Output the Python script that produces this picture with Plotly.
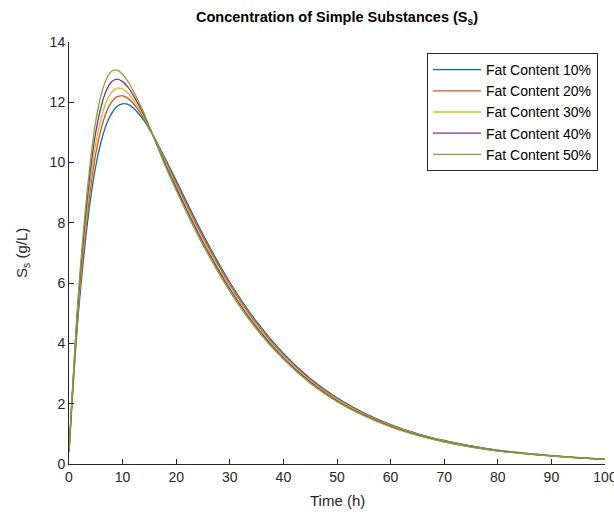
import plotly.graph_objects as go

time_h = [0, 0.5, 1, 1.5, 2, 3, 4, 5, 6, 7, 8, 9, 10, 11, 12, 14, 16, 18, 20, 22, 25,
          30, 35, 40, 45, 50, 55, 60, 65, 70, 75, 80, 85, 90, 95, 100]

fat_10 = [0.4, 1.85, 3.2, 4.45, 5.5, 7.3, 8.77, 9.89, 10.70, 11.28, 11.64, 11.87, 11.95, 11.93,
          11.81, 11.39, 10.80, 10.12, 9.40, 8.67, 7.61, 6.03, 4.72, 3.67, 2.84, 2.20, 1.70,
          1.31, 1.01, 0.78, 0.60, 0.46, 0.36, 0.28, 0.21, 0.16]
fat_20 = [0.4, 1.89, 3.29, 4.6, 5.7, 7.58, 9.12, 10.3, 11.12, 11.69, 12.02, 12.19, 12.21, 12.13,
          11.96, 11.46, 10.79, 10.05, 9.31, 8.58, 7.52, 5.95, 4.65, 3.62, 2.8, 2.165, 1.67,
          1.29, 0.994, 0.767, 0.59, 0.452, 0.355, 0.276, 0.207, 0.157]
fat_30 = [0.4, 1.925, 3.375, 4.725, 5.875, 7.825, 9.42, 10.64, 11.475, 12.03, 12.34, 12.47, 12.44,
          12.31, 12.09, 11.515, 10.775, 9.995, 9.24, 8.495, 7.435, 5.88, 4.595, 3.57, 2.76,
          2.135, 1.65, 1.27, 0.98, 0.755, 0.58, 0.445, 0.35, 0.2725, 0.205, 0.155]
fat_40 = [0.4, 1.96, 3.46, 4.86, 6.06, 8.09, 9.745, 11.015, 11.86, 12.405, 12.69, 12.77, 12.685,
          12.5, 12.23, 11.58, 10.76, 9.93, 9.16, 8.41, 7.35, 5.805, 4.53, 3.52, 2.72, 2.1,
          1.625, 1.25, 0.965, 0.7425, 0.57, 0.4375, 0.345, 0.269, 0.2025, 0.1525]
fat_50 = [0.4, 2.0, 3.55, 5.0, 6.25, 8.35, 10.07, 11.39, 12.25, 12.78, 13.04, 13.07, 12.93, 12.69,
          12.37, 11.64, 10.75, 9.87, 9.08, 8.32, 7.26, 5.73, 4.47, 3.47, 2.68, 2.07, 1.6,
          1.23, 0.95, 0.73, 0.56, 0.43, 0.34, 0.265, 0.2, 0.15]

series_names = ["Fat Content 10%", "Fat Content 20%", "Fat Content 30%",
                "Fat Content 40%", "Fat Content 50%"]
series_values = [fat_10, fat_20, fat_30, fat_40, fat_50]
colors = ["#0072BD", "#D95319", "#EDB120", "#7E2F8E", "#77AC30"]

x_ticks = [0, 10, 20, 30, 40, 50, 60, 70, 80, 90, 100]
y_ticks = [0, 2, 4, 6, 8, 10, 12, 14]

FONT = "Liberation Sans, Arial, Helvetica, sans-serif"
AX = "#262626"

L, R, T, B = 69, 9, 42, 56
W, H = 614, 520
PW, PH = W - L - R, H - T - B

fig = go.Figure()
for name, vals, col in zip(series_names, series_values, colors):
    fig.add_trace(go.Scatter(
        x=time_h, y=vals, mode="lines", name=name,
        line=dict(color=col, width=1.3, shape="spline", smoothing=0.6),
    ))

fig.update_layout(
    width=W, height=H,
    margin=dict(l=L, r=R, t=T, b=B, autoexpand=False),
    paper_bgcolor="white", plot_bgcolor="white",
    font=dict(family=FONT, color=AX, size=14),
    title=dict(
        text="<b>Concentration of Simple Substances (S<sub>s</sub>)</b>",
        x=(L + W - R) / 2 / W, xanchor="center", y=1 - 17 / H, yanchor="middle",
        font=dict(family=FONT, size=14.5, color="black"),
    ),
    showlegend=True,
    legend=dict(
        x=(598 - L) / PW, xanchor="right", y=(H - B - 53) / PH, yanchor="top",
        bgcolor="white", bordercolor=AX, borderwidth=1,
        font=dict(family=FONT, size=14, color="black"),
        tracegroupgap=0, itemwidth=48,
    ),
    annotations=[
        dict(text="Time (h)", xref="paper", yref="paper",
             x=0.5, y=-(500 - (H - B)) / PH, xanchor="center", yanchor="middle",
             showarrow=False, font=dict(family=FONT, size=15, color=AX)),
        dict(text="S<sub>s</sub> (g/L)", xref="paper", yref="paper",
             x=-(L - 22) / PW, y=0.5, xanchor="center", yanchor="middle", textangle=-90,
             showarrow=False, font=dict(family=FONT, size=15, color=AX)),
    ],
)

fig.update_xaxes(
    range=[0, 100], tickvals=x_ticks, ticktext=[str(v) for v in x_ticks],
    ticks="inside", ticklen=5, tickcolor=AX, showline=True, linecolor=AX, linewidth=1,
    showgrid=False, zeroline=False, mirror=False, automargin=False,
    ticklabeloverflow="allow",
    tickfont=dict(family=FONT, size=14, color=AX),
)
fig.update_yaxes(
    range=[0, 14], tickvals=y_ticks, ticktext=[str(v) for v in y_ticks],
    ticks="inside", ticklen=5, tickcolor=AX, showline=True, linecolor=AX, linewidth=1,
    showgrid=False, zeroline=False, mirror=False, automargin=False,
    ticklabeloverflow="allow",
    tickfont=dict(family=FONT, size=14, color=AX),
)

fig.write_html(
    "out.html",
    config={"displayModeBar": False, "responsive": False},
    post_script="document.body.style.margin='0';document.body.style.padding='0';",
)
